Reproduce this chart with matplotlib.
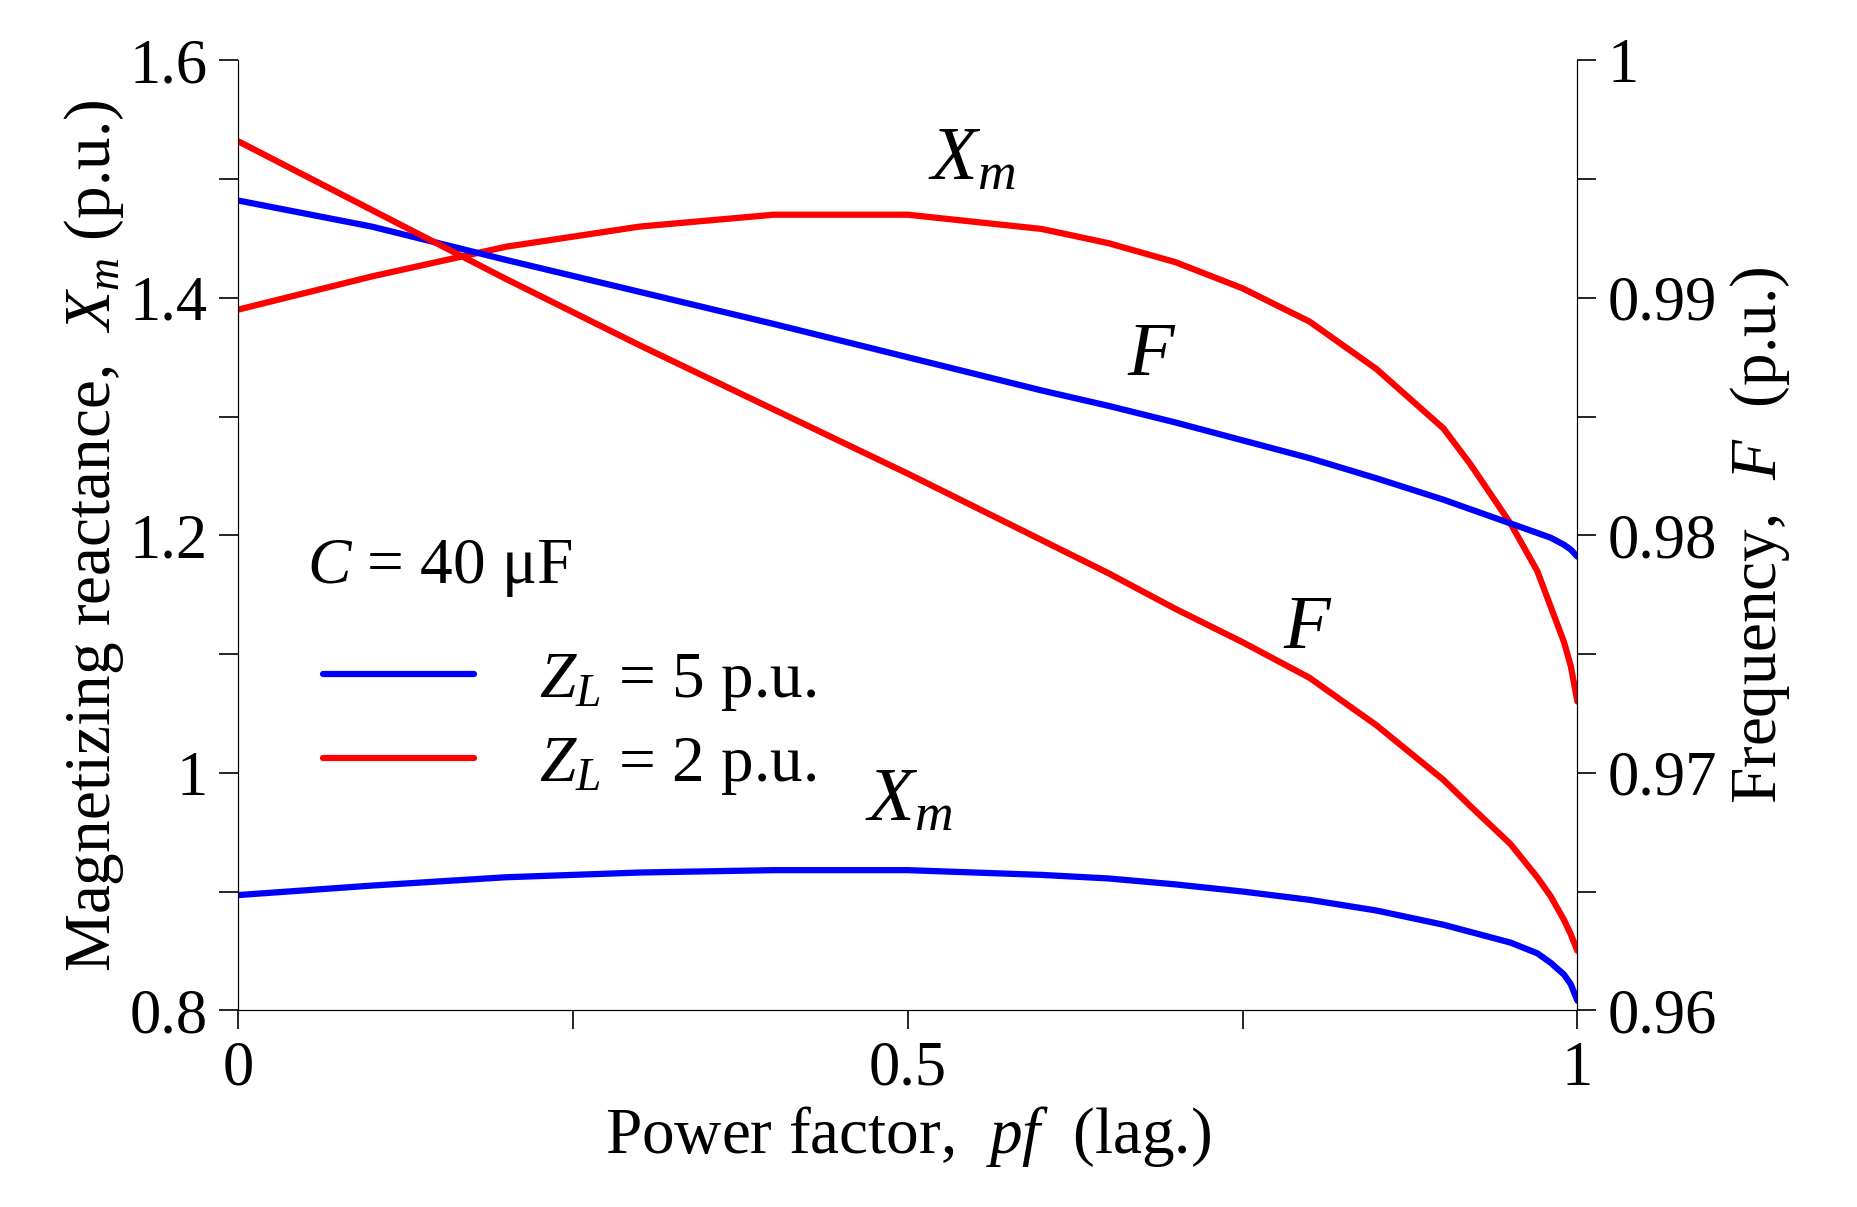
import matplotlib
matplotlib.use("Agg")
import matplotlib.pyplot as plt
import numpy as np

plt.rcParams['font.family'] = ['Liberation Serif', 'DejaVu Serif']
plt.rcParams['mathtext.fontset'] = 'custom'
plt.rcParams['mathtext.it'] = 'Liberation Serif:italic'
plt.rcParams['mathtext.rm'] = 'Liberation Serif'

pf = [0, 0.1, 0.2, 0.3, 0.4, 0.5, 0.6, 0.65, 0.7, 0.75, 0.8, 0.85, 0.9, 0.92, 0.95, 0.97, 0.98, 0.99, 0.995, 1.0]
xm_z5 = [0.897, 0.905, 0.912, 0.916, 0.918, 0.918, 0.914, 0.911, 0.906, 0.900, 0.893, 0.884, 0.872, 0.866, 0.857, 0.848, 0.840, 0.830, 0.822, 0.808]
xm_z2 = [1.39, 1.418, 1.443, 1.46, 1.47, 1.47, 1.458, 1.446, 1.43, 1.408, 1.38, 1.34, 1.29, 1.26, 1.21, 1.17, 1.14, 1.11, 1.09, 1.06]
f_z5 = [0.9941, 0.9930, 0.9916, 0.99025, 0.9889, 0.9875, 0.9861, 0.98545, 0.98475, 0.9840, 0.98325, 0.9824, 0.9815, 0.9811, 0.9805, 0.9801, 0.9799, 0.9796, 0.9794, 0.9791]
f_z2 = [0.9966, 0.9937, 0.9908, 0.9880, 0.9853, 0.9826, 0.9798, 0.9784, 0.9769, 0.9755, 0.9740, 0.9720, 0.9697, 0.9686, 0.9670, 0.9656, 0.9648, 0.9638, 0.9632, 0.9625]

fs = 45
fig = plt.figure(figsize=(18.58, 12.07), dpi=100)
ax = fig.add_axes([0.128, 0.163, 0.721, 0.787])
ax2 = ax.twinx()
blue, red = '#0000ff', '#ff0000'
lw = 4.5
kw = dict(lw=lw, solid_joinstyle='round', solid_capstyle='round')
ax.plot(pf, xm_z5, color=blue, label=r'$Z_L$ = 5 p.u.', **kw)
ax.plot(pf, xm_z2, color=red, label=r'$Z_L$ = 2 p.u.', **kw)
ax2.plot(pf, f_z5, color=blue, **kw)
ax2.plot(pf, f_z2, color=red, **kw)

ax.set_xlim(0, 1); ax.set_ylim(0.8, 1.6); ax2.set_ylim(0.96, 1.0)
ax.set_xticks([0, 0.25, 0.5, 0.75, 1]); ax.set_xticklabels(['0', '', '0.5', '', '1'])
ax.set_yticks(np.arange(0.8, 1.61, 0.1))
ax.set_yticklabels(['0.8', '', '1', '', '1.2', '', '1.4', '', '1.6'])
ax2.set_yticks(np.arange(0.96, 1.0001, 0.005))
ax2.set_yticklabels(['0.96', '', '0.97', '', '0.98', '', '0.99', '', '1'])
for a in (ax, ax2):
    a.spines['top'].set_visible(False)
    a.tick_params(labelsize=fs, length=14, width=1.2, direction='out', pad=8)
ax.set_xlabel(r'Power factor,  $pf$  (lag.)', fontsize=fs + 2, labelpad=4)
ax.set_ylabel(r'Magnetizing reactance,  $X_m$ (p.u.)', fontsize=fs + 2, labelpad=2)
ax2.set_ylabel(r'Frequency,  $F$  (p.u.)', fontsize=fs + 2, labelpad=8)

ls = fs + 10
ax.text(0.515, 1.50, r'$X_m$', fontsize=ls)
ax.text(0.664, 1.335, r'$F$', fontsize=ls)
ax.text(0.78, 1.105, r'$F$', fontsize=ls)
ax.text(0.468, 0.96, r'$X_m$', fontsize=ls)
ax.text(0.052, 1.16, r'$C$ = 40 $\mathrm{\mu}$F', fontsize=fs + 2)
ax.legend(loc='upper left', bbox_to_anchor=(0.02, 0.44), frameon=False, fontsize=fs + 2,
          handlelength=2.3, handletextpad=1.0, labelspacing=0.35)
fig.savefig('out.png')
